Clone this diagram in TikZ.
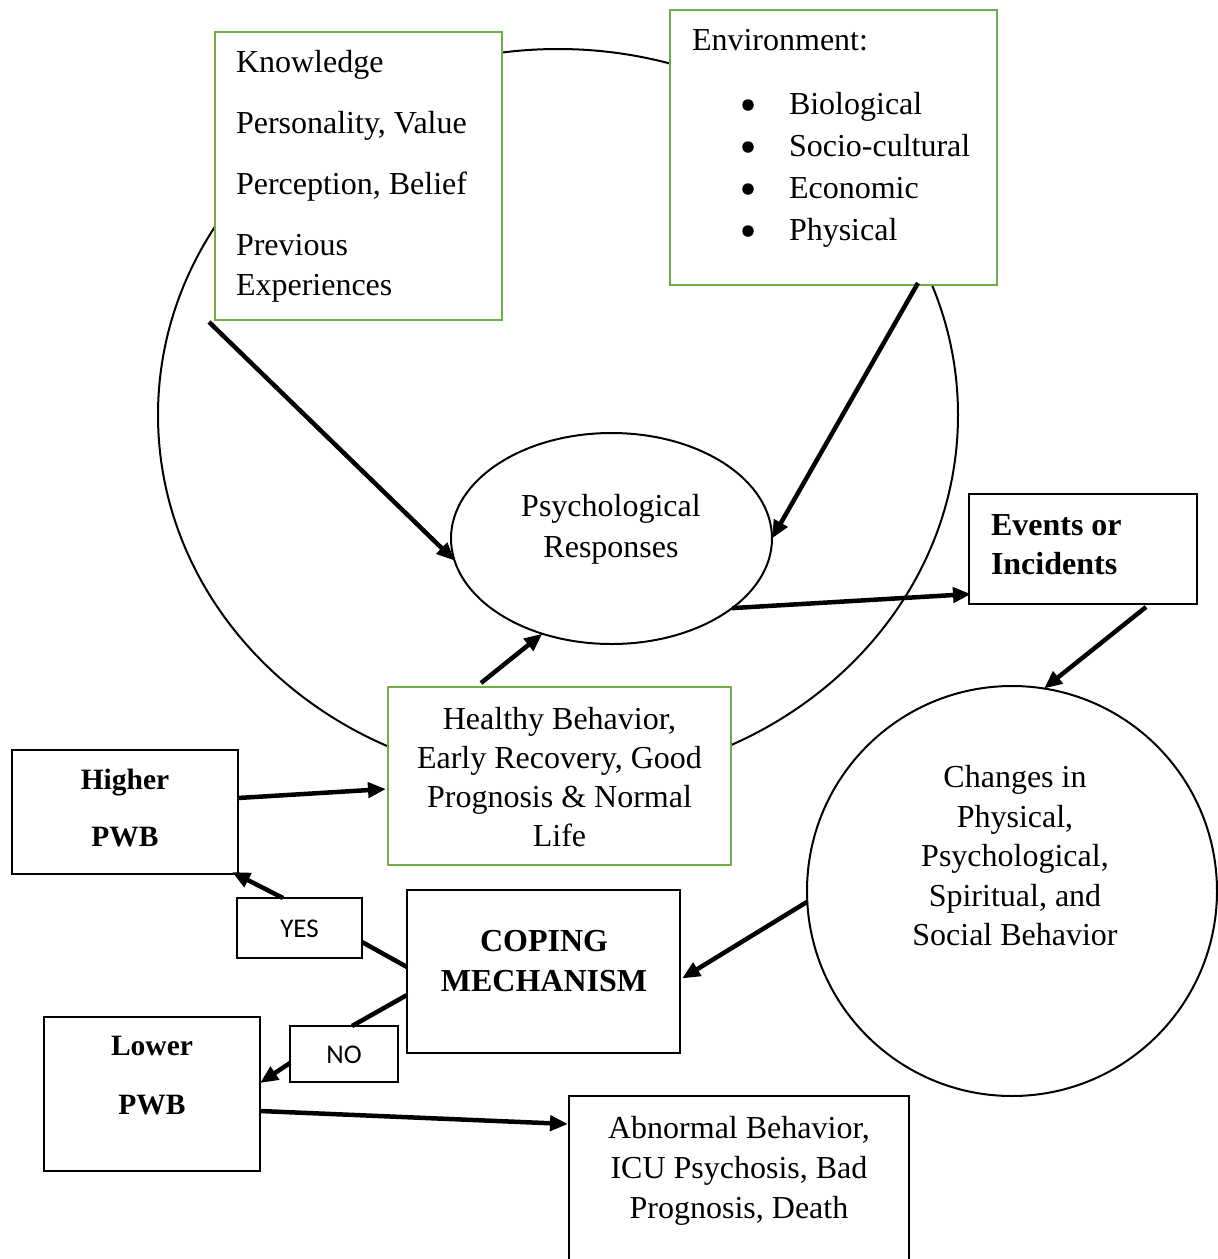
\documentclass[tikz,border=0pt]{standalone}
\usepackage{fontspec}
\setmainfont{Liberation Serif}
\newfontfamily\labelsans{Carlito}
\usetikzlibrary{arrows.meta,shapes.geometric,calc}
\definecolor{boxgreen}{HTML}{70AD47}

\begin{document}
\begin{tikzpicture}[x=1pt,y=-1pt,
  every node/.style={inner sep=0pt, outer sep=0pt},
  greenbox/.style={draw=boxgreen, line width=2.5pt, fill=white, rectangle},
  blackbox/.style={draw=black, line width=2.2pt, fill=white, rectangle},
  ring/.style={draw=black, line width=2pt},
  dot/.style={circle, fill=black, minimum size=11.5pt},
  body/.style={font=\fontsize{32}{40}\selectfont},
  heavy/.style={font=\fontsize{29.5}{40}\selectfont\bfseries},
  tag/.style={font=\labelsans\fontsize{27}{32}\selectfont},
  flow/.style={line width=4.5pt, -{Triangle[length=18pt,width=15pt]}},
  link/.style={line width=4.5pt},
]
\clip (0,0) rectangle (1218,1259);
\useasboundingbox (0,0) rectangle (1218,1259);

% outer cycle
\node[ring, ellipse, minimum width=800pt, minimum height=732pt] (cycle) at (558,415) {};

% factors
\node[greenbox, minimum width=287pt, minimum height=288pt] (know) at (358.5,176) {};
\node[body, anchor=north west, align=left] (knowtxt) at (236,50)
  {Knowledge\\[21pt]Personality, Value\\[21pt]Perception, Belief\\[21pt]Previous\\Experiences};

\node[greenbox, minimum width=327pt, minimum height=275pt] (env) at (833.5,147.5) {};
\node[font=\fontsize{32}{42}\selectfont, anchor=north west, align=left] (envtxt) at (692,29)
  {Environment:\\[22pt]
   \hspace*{97pt}Biological\\
   \hspace*{97pt}Socio-cultural\\
   \hspace*{97pt}Economic\\
   \hspace*{97pt}Physical};
% list bullets
\node[dot] (b1) at (748,105) {};
\node[dot] (b2) at (748,147) {};
\node[dot] (b3) at (748,189) {};
\node[dot] (b4) at (748,231) {};

% responses
\node[ring, ellipse, fill=white, minimum width=321pt, minimum height=211pt] (psych) at (611.5,538.5) {};
\node[font=\fontsize{32}{41}\selectfont, align=center] (psychtxt) at (611,529.5) {Psychological\\Responses};

\node[blackbox, minimum width=228pt, minimum height=110pt] (events) at (1083,549) {};
\node[font=\fontsize{32}{39}\selectfont\bfseries, anchor=west, align=left] (eventstxt) at (991,545) {Events or\\Incidents};

\node[ring, circle, fill=white, minimum size=410pt] (changes) at (1012,891) {};
\node[font=\fontsize{32}{39.5}\selectfont, align=center] (changestxt) at (1015,856)
  {Changes in\\Physical,\\Psychological,\\Spiritual, and\\Social Behavior};

\node[greenbox, minimum width=343pt, minimum height=178pt] (healthy) at (559.5,776) {};
\node[font=\fontsize{32}{39}\selectfont, align=center] (healthytxt) at (559.5,777)
  {Healthy Behavior,\\Early Recovery, Good\\Prognosis \& Normal\\Life};

% outcomes of coping
\node[blackbox, minimum width=226pt, minimum height=124pt] (higher) at (125,812) {};
\node[heavy, align=center] (highertxt) at (125,808) {Higher\\[17pt]PWB};

\node[blackbox, minimum width=125pt, minimum height=60pt] (yes) at (299.5,928) {};
\node[tag] (yestxt) at (299.5,929) {YES};

\node[blackbox, minimum width=273pt, minimum height=163pt] (coping) at (543.5,971.5) {};
\node[font=\fontsize{32}{40}\selectfont\bfseries, align=center] (copingtxt) at (544,961) {COPING\\MECHANISM};

\node[blackbox, minimum width=108pt, minimum height=56pt] (no) at (344,1054) {};
\node[tag] (notxt) at (344,1055) {NO};

\node[blackbox, minimum width=216pt, minimum height=154pt] (lower) at (152,1094) {};
\node[heavy, align=center] (lowertxt) at (152,1076) {Lower\\[19pt]PWB};

\node[blackbox, minimum width=340pt, minimum height=204pt] (abnormal) at (739,1198) {};
\node[font=\fontsize{32}{40}\selectfont, align=center] (abnormaltxt) at (739,1171)
  {Abnormal Behavior,\\ICU Psychosis, Bad\\Prognosis, Death};

% connectors
\draw[flow] ($(know.south west)+(-6,2)$) -- (psych.188);
\draw[flow] ($(env.south)+(84.5,-2)$) -- (psych.east);
\draw[flow] (psych.-30) -- ($(events.south west)+(2,-10)$);
\draw[flow] ($(events.south)+(63,3)$) -- (changes.81);
\draw[flow] ($(healthy.north)+(-78.5,-4)$) -- (psych.234);
\draw[flow] ($(higher.east)+(0,-14)$) -- ($(healthy.west)+(-2,13)$);
\draw[flow] (changes.183) -- ($(coping.east)+(2,7)$);
\draw[link] ($(coping.west)+(0,-4.5)$) -- ($(yes.east)+(0,14)$);
\draw[flow] ($(yes.north)+(-16.5,0)$) -- ($(higher.south east)+(-6,-2)$);
\draw[link] ($(coping.west)+(0,23.5)$) -- ($(no.north)+(8,0)$);
\draw[flow] ($(no.west)+(0,9)$) -- ($(lower.east)+(0,-11)$);
\draw[flow] ($(lower.east)+(0,17)$) -- ($(abnormal.north west)+(-1,28)$);
\end{tikzpicture}
\end{document}
